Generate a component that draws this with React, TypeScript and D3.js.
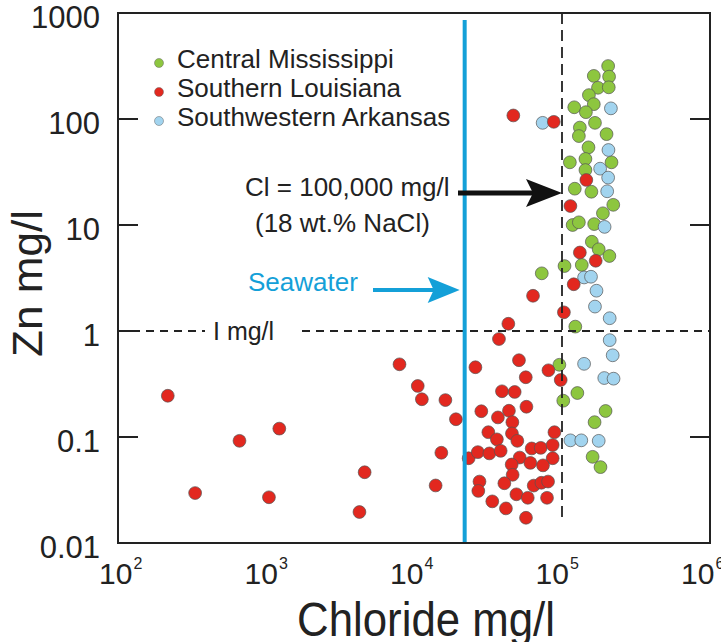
import React, { useEffect, useRef } from 'react';
import * as d3 from 'd3';

// [chloride mg/l, Zn mg/l]
const centralMississippi: [number, number][] = [
  [205000, 316], [208000, 251], [164000, 255], [175000, 197], [207000, 199],
  [152000, 168], [164000, 138], [121000, 129], [145000, 116], [132000, 83],
  [130000, 69], [167000, 92], [200000, 72], [151000, 54], [113000, 39],
  [144000, 42], [216000, 39], [144000, 33], [122000, 22], [158000, 20.6],
  [222000, 15.5], [189000, 12.9], [118000, 10], [130000, 10.6], [165000, 10.2],
  [159000, 6.95], [177000, 5.9], [209000, 5.1], [136000, 4.2], [104000, 4.1],
  [73000, 3.5], [123000, 1.1], [96000, 0.48], [127000, 0.26], [102000, 0.22],
  [197000, 0.176], [166000, 0.138], [161000, 0.065], [182000, 0.052],
];

const southernLouisiana: [number, number][] = [
  [46900, 108], [88000, 94], [146000, 26.6], [114000, 15.1], [132000, 5.5],
  [169000, 4.6], [120000, 2.76], [63700, 2.15], [103000, 1.5], [43400, 1.17],
  [37500, 0.84], [51200, 0.53], [26000, 0.455], [81000, 0.426], [56900, 0.366],
  [98000, 0.345], [39300, 0.27], [47900, 0.266], [16300, 0.223], [57500, 0.193],
  [28500, 0.175], [43800, 0.177], [19200, 0.147], [36900, 0.153], [46200, 0.138],
  [31800, 0.111], [45900, 0.108], [88900, 0.111], [36300, 0.095], [49900, 0.092],
  [15300, 0.071], [23400, 0.063], [27000, 0.072], [32300, 0.07], [38500, 0.074],
  [62400, 0.078], [71800, 0.079], [86500, 0.084], [51800, 0.064], [86500, 0.063],
  [45700, 0.055], [61100, 0.057], [74400, 0.054], [46400, 0.044], [27700, 0.038],
  [40800, 0.0366], [64400, 0.0348], [72600, 0.037], [80500, 0.038], [27200, 0.031],
  [49200, 0.0288], [58700, 0.0267], [79200, 0.0267], [33800, 0.0247], [41800, 0.0212],
  [57100, 0.0173], [14000, 0.0349],
  [217, 0.245], [662, 0.092], [1230, 0.12], [332, 0.0296], [1047, 0.027],
  [4640, 0.0465], [4280, 0.0196], [7980, 0.485], [10600, 0.303], [11300, 0.227],
];

const southwesternArkansas: [number, number][] = [
  [214000, 126], [74000, 92], [206000, 51], [181000, 34], [205000, 28],
  [202000, 20.8], [194000, 9.6], [141000, 3.2], [157000, 3.25], [171000, 2.4],
  [167000, 1.7], [210000, 1.32], [210000, 0.82], [220000, 0.59], [141000, 0.49],
  [193000, 0.36], [223000, 0.355], [114000, 0.093], [135000, 0.093], [177000, 0.092],
];

const seriesNames = ['Central Mississippi', 'Southern Louisiana', 'Southwestern Arkansas'];
const seriesColors = ['#8dc63f', '#e2281f', '#a2d4ef'];

const xTickExponents = [2, 3, 4, 5, 6];
const yTicks = [1000, 100, 10, 1, 0.1, 0.01];
const yTickLabels = ['1000', '100', '10', '1', '0.1', '0.01'];

const seawaterCl = 22000;
const brineCl = 100000;
const oneMgL = 1;

const App = () => {
  const svgRef = useRef<SVGSVGElement>(null);

  useEffect(() => {
    const svg = d3.select(svgRef.current);
    svg.selectAll('*').remove();

    const font = "'Liberation Sans', Arial, sans-serif";
    const left = 118, right = 710, top = 13, bottom = 543;

    const x = d3.scaleLog().domain([1e2, 1e6]).range([left, right]);
    const y = d3.scaleLog().domain([0.01, 1000]).range([bottom, top]);

    // y tick labels (sit a touch below their ticks, as in the source figure)
    yTicks.forEach((t, i) => {
      svg.append('text')
        .attr('x', 100)
        .attr('y', y(t) + 15)
        .attr('text-anchor', 'end')
        .style('font-family', font)
        .style('font-size', '31px')
        .attr('fill', '#222')
        .text(yTickLabels[i]);
    });

    // inner ticks on left and right
    [100, 10, 1, 0.1].forEach(t => {
      svg.append('line')
        .attr('x1', left).attr('x2', left + 20)
        .attr('y1', y(t)).attr('y2', y(t))
        .attr('stroke', '#222').attr('stroke-width', 2);
    });
    [100, 10, 0.1].forEach(t => {
      svg.append('line')
        .attr('x1', right - 20).attr('x2', right)
        .attr('y1', y(t)).attr('y2', y(t))
        .attr('stroke', '#222').attr('stroke-width', 2);
    });

    // x tick labels 10^n
    xTickExponents.forEach(e => {
      const t = svg.append('text')
        .attr('x', x(Math.pow(10, e)) - 19 - (e - 2) * 2.5)
        .attr('y', 584)
        .style('font-family', font)
        .style('font-size', '30px')
        .attr('fill', '#222');
      t.append('tspan').text('10');
      t.append('tspan')
        .attr('dx', 1)
        .attr('dy', -15)
        .style('font-size', '16px')
        .text(String(e));
    });

    // axis titles
    svg.append('text')
      .attr('x', 297)
      .attr('y', 636)
      .attr('textLength', 258)
      .attr('lengthAdjust', 'spacingAndGlyphs')
      .style('font-family', font)
      .style('font-size', '48px')
      .attr('fill', '#222')
      .text('Chloride  mg/l');

    svg.append('text')
      .attr('transform', `translate(42,357) rotate(-90)`)
      .attr('textLength', 147)
      .attr('lengthAdjust', 'spacingAndGlyphs')
      .style('font-family', font)
      .style('font-size', '42px')
      .attr('fill', '#222')
      .text('Zn  mg/l');

    // data points
    const groups = [centralMississippi, southwesternArkansas, southernLouisiana];
    const groupColors = [seriesColors[0], seriesColors[2], seriesColors[1]];
    groups.forEach((data, gi) => {
      svg.append('g')
        .selectAll('circle')
        .data(data)
        .enter()
        .append('circle')
        .attr('cx', d => x(d[0]))
        .attr('cy', d => y(d[1]))
        .attr('r', 6.4)
        .attr('fill', groupColors[gi])
        .attr('stroke', '#555')
        .attr('stroke-width', 0.7);
    });

    // 1 mg/l dashed line with label gap
    svg.append('line')
      .attr('x1', left).attr('x2', 205)
      .attr('y1', y(oneMgL)).attr('y2', y(oneMgL))
      .attr('stroke', '#222').attr('stroke-width', 1.8)
      .attr('stroke-dasharray', '8,6');
    svg.append('line')
      .attr('x1', 302).attr('x2', right)
      .attr('y1', y(oneMgL)).attr('y2', y(oneMgL))
      .attr('stroke', '#222').attr('stroke-width', 1.8)
      .attr('stroke-dasharray', '8,6');
    svg.append('text')
      .attr('x', 213)
      .attr('y', y(oneMgL) + 9)
      .style('font-family', font)
      .style('font-size', '25px')
      .attr('fill', '#222')
      .text('I mg/l');

    // 100,000 mg/l dashed line
    svg.append('line')
      .attr('x1', x(brineCl)).attr('x2', x(brineCl))
      .attr('y1', top).attr('y2', 518)
      .attr('stroke', '#222').attr('stroke-width', 1.8)
      .attr('stroke-dasharray', '11,6');

    // seawater line
    svg.append('line')
      .attr('x1', x(seawaterCl)).attr('x2', x(seawaterCl))
      .attr('y1', 20).attr('y2', bottom)
      .attr('stroke', '#14a0d8').attr('stroke-width', 4);

    // seawater label + arrow
    svg.append('text')
      .attr('x', 248)
      .attr('y', 291)
      .style('font-family', font)
      .style('font-size', '26px')
      .attr('fill', '#14a0d8')
      .text('Seawater');
    const sx = x(seawaterCl) - 5;
    svg.append('line')
      .attr('x1', 373).attr('x2', sx - 25)
      .attr('y1', 290).attr('y2', 290)
      .attr('stroke', '#14a0d8').attr('stroke-width', 4);
    svg.append('path')
      .attr('d', `M${sx},290 L${sx - 32},277 L${sx - 26},290 L${sx - 32},303 Z`)
      .attr('fill', '#14a0d8');

    // Cl = 100,000 annotation + arrow
    svg.append('text')
      .attr('x', 245)
      .attr('y', 196)
      .style('font-family', font)
      .style('font-size', '26px')
      .attr('fill', '#222')
      .text('Cl = 100,000 mg/l');
    svg.append('text')
      .attr('x', 255)
      .attr('y', 232)
      .style('font-family', font)
      .style('font-size', '26px')
      .attr('fill', '#222')
      .text('(18 wt.% NaCl)');
    const bx = x(brineCl);
    svg.append('line')
      .attr('x1', 458).attr('x2', bx - 28)
      .attr('y1', 193).attr('y2', 193)
      .attr('stroke', '#111').attr('stroke-width', 5);
    svg.append('path')
      .attr('d', `M${bx},193 L${bx - 36},179 L${bx - 29},193 L${bx - 36},207 Z`)
      .attr('fill', '#111');

    // frame
    svg.append('rect')
      .attr('x', left).attr('y', top)
      .attr('width', right - left).attr('height', bottom - top)
      .attr('fill', 'none')
      .attr('stroke', '#222')
      .attr('stroke-width', 2);

    // legend
    seriesNames.forEach((name, i) => {
      const ly = 63 + i * 29;
      svg.append('circle')
        .attr('cx', 159).attr('cy', ly).attr('r', 4.5)
        .attr('fill', seriesColors[i])
        .attr('stroke', '#666').attr('stroke-width', 0.5);
      svg.append('text')
        .attr('x', 177).attr('y', ly + 5)
        .style('font-family', font)
        .style('font-size', '26px')
        .attr('fill', '#222')
        .text(name);
    });
  }, []);

  return (
    <svg
      ref={svgRef}
      width={721}
      height={642}
      style={{ position: 'absolute', left: 0, top: 0, background: '#fff' }}
    />
  );
};

export default App;
